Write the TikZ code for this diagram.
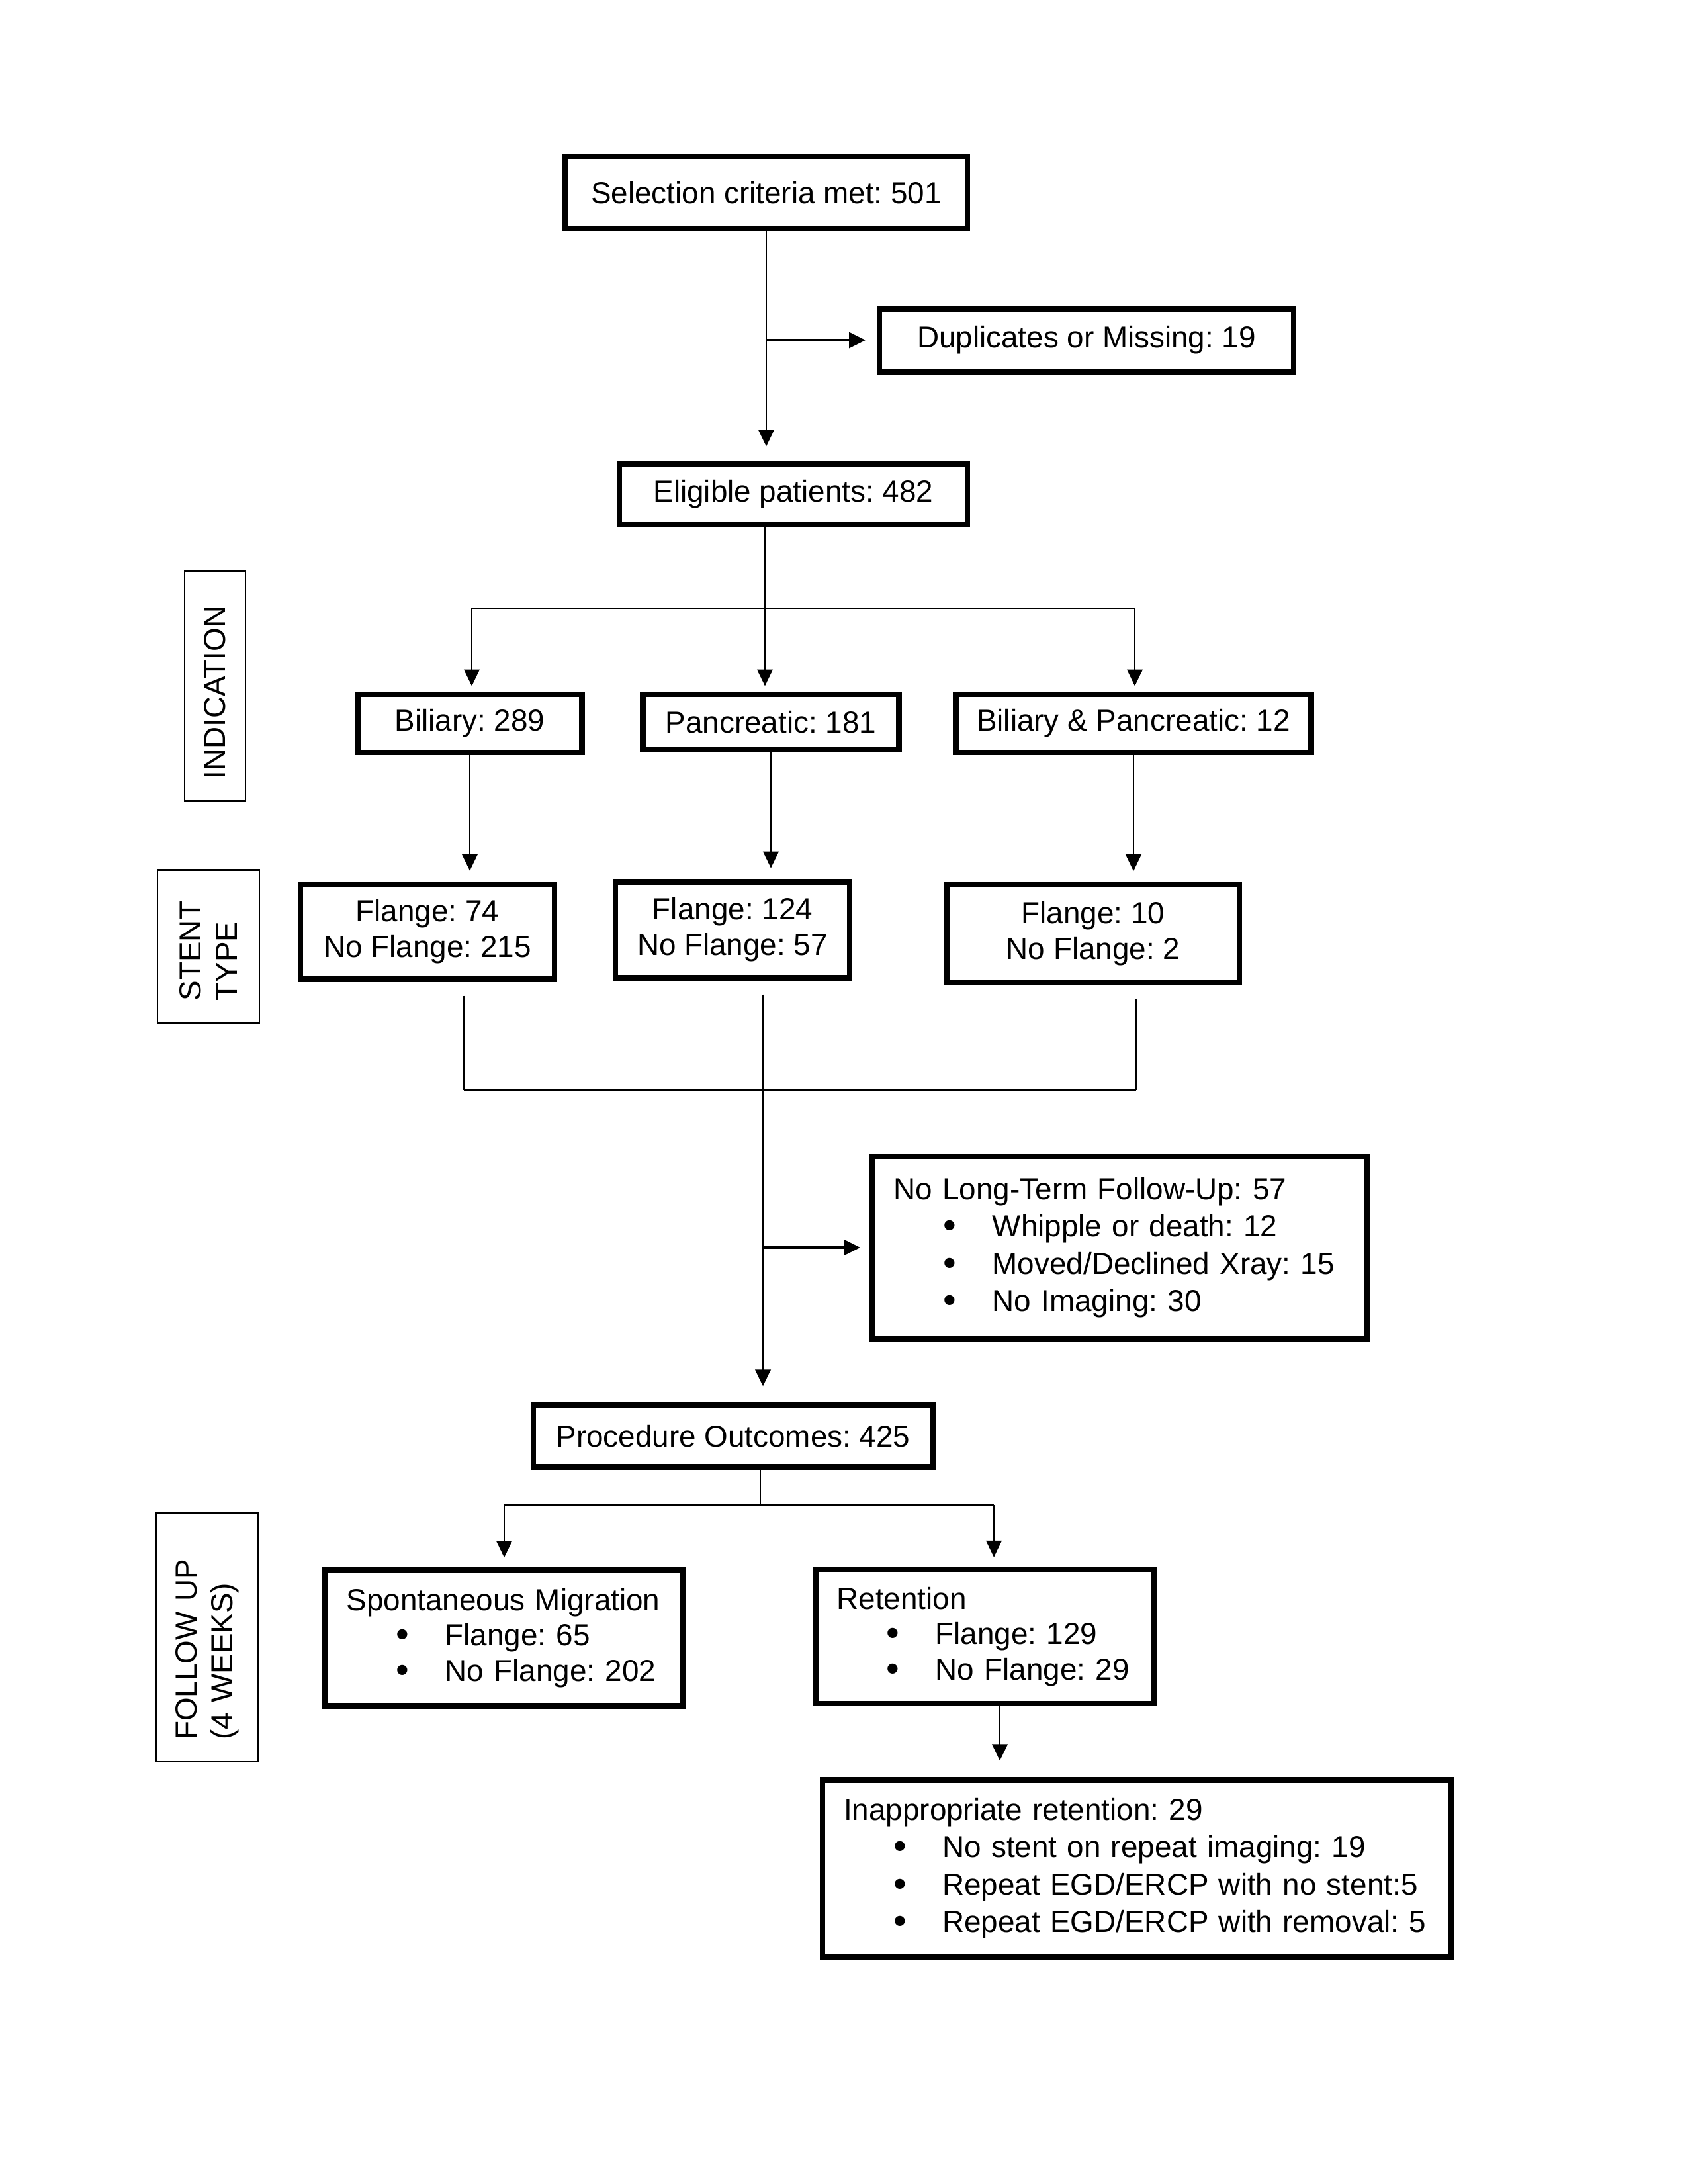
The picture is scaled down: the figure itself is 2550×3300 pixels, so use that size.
\documentclass[tikz,border=0pt]{standalone}
\usepackage{fontspec}
\setmainfont{Liberation Sans}
\usetikzlibrary{arrows.meta}
\frenchspacing
\newcommand\bul{\makebox[35.8pt][l]{\hspace*{18pt}\smash{\raisebox{-0.5pt}{\fontsize{13.5pt}{0pt}\selectfont\textbullet}}}}
\begin{document}
\begin{tikzpicture}[x=0.24pt,y=-0.24pt,
  fnt/.style={font=\fontsize{11pt}{#1}\selectfont\frenchspacing},
  mainbox/.style={draw, line width=2pt, inner sep=0pt, align=center, fnt=13pt},
  listbox/.style={draw, line width=2pt, inner xsep=7.7pt, inner ysep=0pt, align=left},
  labelbox/.style={draw, line width=0.6pt, rotate=90, inner xsep=8pt, inner ysep=0pt, align=left, fnt=13pt},
  conn/.style={line width=0.7pt},
  sideconn/.style={line width=1.1pt},
  arr/.style={-{Triangle[length=6pt,width=5.6pt]}},
]
\useasboundingbox (0,0) rectangle (2550,3300);

% main boxes
\node[mainbox, minimum width=608*0.24pt, minimum height=108*0.24pt] (sel) at (1158,291) {Selection criteria met: 501};
\node[mainbox, minimum width=626*0.24pt, minimum height=95*0.24pt] (dup) at (1642,514) {Duplicates or Missing: 19};
\node[mainbox, minimum width=526*0.24pt, minimum height=91*0.24pt] (elig) at (1199,747) {Eligible patients: 482};
\node[mainbox, minimum width=339*0.24pt, minimum height=88*0.24pt] (bil) at (710,1093) {Biliary: 289};
\node[mainbox, minimum width=387*0.24pt, minimum height=84*0.24pt] (panc) at (1165,1091) {Pancreatic: 181};
\node[mainbox, minimum width=537*0.24pt, minimum height=88*0.24pt] (bp) at (1713,1093) {Biliary \& Pancreatic: 12};
\node[mainbox, minimum width=384*0.24pt, minimum height=143*0.24pt] (fa) at (646,1408) {Flange: 74\\No Flange: 215};
\node[mainbox, minimum width=354*0.24pt, minimum height=145*0.24pt] (fb) at (1107,1405) {Flange: 124\\No Flange: 57};
\node[mainbox, minimum width=442*0.24pt, minimum height=148*0.24pt] (fc) at (1652,1411) {Flange: 10\\No Flange: 2};
\node[listbox, fnt=13.5pt, text width=747*0.24pt-15.4pt, minimum height=276*0.24pt] (nolt) at (1692,1885)
  {\mbox{No Long-Term Follow-Up: 57}\\
   \mbox{\bul Whipple or death: 12}\\
   \mbox{\bul Moved/Declined Xray: 15}\\
   \mbox{\bul No Imaging: 30}};
\node[mainbox, minimum width=604*0.24pt, minimum height=93*0.24pt] (proc) at (1108,2170) {Procedure Outcomes: 425};
\node[listbox, fnt=12.9pt, text width=541*0.24pt-15.4pt, minimum height=205*0.24pt] (spont) at (762,2475)
  {\mbox{Spontaneous Migration}\\
   \mbox{\bul Flange: 65}\\
   \mbox{\bul No Flange: 202}};
\node[listbox, fnt=12.9pt, text width=511*0.24pt-15.4pt, minimum height=202*0.24pt] (ret) at (1488,2473)
  {\mbox{Retention}\\
   \mbox{\bul Flange: 129}\\
   \mbox{\bul No Flange: 29}};
\node[listbox, fnt=13.5pt, text width=950*0.24pt-15.4pt, minimum height=267*0.24pt] (inap) at (1718,2823)
  {\mbox{Inappropriate retention: 29}\\
   \mbox{\bul No stent on repeat imaging: 19}\\
   \mbox{\bul Repeat EGD/ERCP with no stent:5}\\
   \mbox{\bul Repeat EGD/ERCP with removal: 5}};

% side labels
\node[labelbox, text width=347*0.24pt-16pt, minimum height=92*0.24pt] (lind) at (325,1037) {INDICATION};
\node[labelbox, text width=231*0.24pt-16pt, minimum height=154*0.24pt] (lst) at (315,1430) {STENT\\TYPE};
\node[labelbox, text width=376*0.24pt-16pt, minimum height=154*0.24pt] (lfu) at (313,2474) {FOLLOW UP\\(4 WEEKS)};

% junction coordinates
\coordinate (ej) at (1156,919);
\coordinate (bl) at (713,919);
\coordinate (br) at (1715,919);
\coordinate (ja) at (701,1647);
\coordinate (jm) at (1153,1647);
\coordinate (jc) at (1717,1647);
\coordinate (pj) at (1149,2274);
\coordinate (sp) at (762,2274);
\coordinate (rt) at (1502,2274);
\coordinate (ri) at (1511,2577);

% connectors
\draw[conn, arr, shorten >=5.5pt] (sel.south) -- (sel.south |- elig.north);
\draw[sideconn, arr, shorten >=4pt] (sel.south |- dup.west) -- (dup.west);
\draw[conn] (ej |- elig.south) -- (ej);
\draw[conn] (bl) -- (br);
\draw[conn, arr, shorten >=2pt] (bl) -- (bl |- bil.north);
\draw[conn, arr, shorten >=2pt] (ej) -- (ej |- panc.north);
\draw[conn, arr, shorten >=2pt] (br) -- (br |- bp.north);
\draw[conn, arr, shorten >=4pt] (bil.south) -- (bil.south |- fa.north);
\draw[conn, arr, shorten >=4pt] (panc.south) -- (panc.south |- fb.north);
\draw[conn, arr, shorten >=4pt] (bp.south) -- (bp.south |- fc.north);
\draw[conn, shorten <=5pt] (ja |- fa.south) -- (ja);
\draw[conn, shorten <=5pt] (jc |- fc.south) -- (jc);
\draw[conn] (ja) -- (jc);
\draw[conn, arr, shorten <=5pt, shorten >=6pt] (jm |- fb.south) -- (jm |- proc.north);
\draw[sideconn, arr, shorten >=3.4pt] (jm |- nolt.west) -- (nolt.west);
\draw[conn] (pj |- proc.south) -- (pj);
\draw[conn] (sp) -- (rt);
\draw[conn, arr, shorten >=3.6pt] (sp) -- (sp |- spont.north);
\draw[conn, arr, shorten >=3.6pt] (rt) -- (rt |- ret.north);
\draw[conn, arr, shorten >=6pt] (ri |- ret.south) -- (ri |- inap.north);
\end{tikzpicture}
\end{document}
